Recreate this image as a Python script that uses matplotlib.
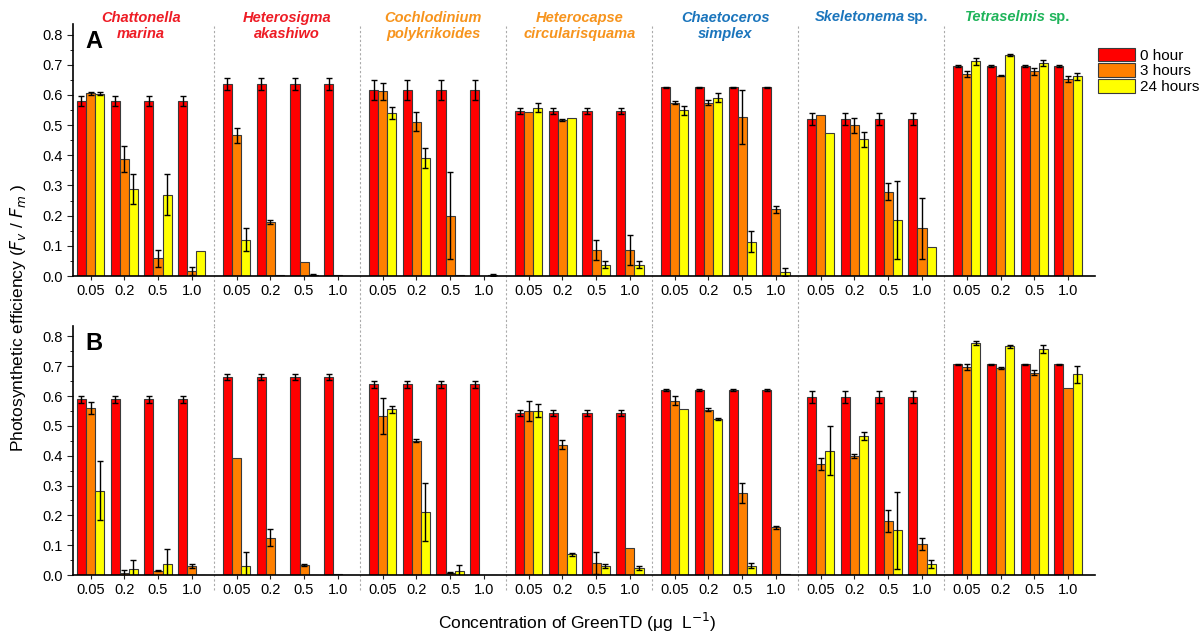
import matplotlib
matplotlib.use("Agg")
import matplotlib.pyplot as plt
import numpy as np

plt.rcParams['font.family'] = ['Liberation Sans', 'DejaVu Sans']

# species and concentrations
species = ["Chattonella\nmarina", "Heterosigma\nakashiwo", "Cochlodinium\npolykrikoides",
           "Heterocapse\ncircularisquama", "Chaetoceros\nsimplex", "Skeletonema", "Tetraselmis"]
species_sp = [False, False, False, False, False, True, True]
species_colors = ["#ee1c25", "#ee1c25", "#f7941d", "#f7941d", "#1b75bc", "#1b75bc", "#1fb45a"]
conc_labels = ["0.05", "0.2", "0.5", "1.0"]
series = ["0 hour", "3 hours", "24 hours"]
bar_colors = ["#ff0000", "#ff8000", "#ffff00"]

# Panel A (values per species, 4 concentrations each)
A_0h = [0.580, 0.580, 0.580, 0.580,  0.637, 0.637, 0.637, 0.637,  0.618, 0.617, 0.617, 0.617,
        0.547, 0.547, 0.547, 0.547,  0.626, 0.626, 0.626, 0.626,  0.521, 0.521, 0.521, 0.521,
        0.696, 0.696, 0.696, 0.696]
A_0h_err = [0.015, 0.015, 0.015, 0.015,  0.02, 0.02, 0.02, 0.02,  0.033, 0.033, 0.033, 0.033,
            0.01, 0.01, 0.01, 0.01,  0.002, 0.002, 0.002, 0.002,  0.02, 0.02, 0.02, 0.02,
            0.003, 0.003, 0.003, 0.003]
A_3h = [0.606, 0.388, 0.059, 0.016,  0.467, 0.180, 0.048, 0.002,  0.612, 0.512, 0.200, 0.0,
        0.543, 0.517, 0.087, 0.087,  0.575, 0.575, 0.526, 0.221,  0.532, 0.500, 0.280, 0.158,
        0.670, 0.664, 0.678, 0.653]
A_3h_err = [0.005, 0.043, 0.028, 0.014,  0.025, 0.007, 0.0, 0.0,  0.027, 0.033, 0.145, 0.0,
            0.0, 0.003, 0.033, 0.05,  0.005, 0.007, 0.09, 0.012,  0.0, 0.025, 0.028, 0.1,
            0.01, 0.002, 0.013, 0.01]
A_24h = [0.604, 0.289, 0.270, 0.083,  0.121, 0.002, 0.005, 0.0,  0.540, 0.392, 0.003, 0.003,
         0.558, 0.523, 0.038, 0.038,  0.550, 0.591, 0.113, 0.013,  0.474, 0.453, 0.186, 0.097,
         0.711, 0.733, 0.707, 0.662]
A_24h_err = [0.005, 0.05, 0.068, 0.0,  0.037, 0.0, 0.002, 0.0,  0.02, 0.033, 0.0, 0.003,
             0.015, 0.0, 0.012, 0.012,  0.015, 0.015, 0.035, 0.013,  0.0, 0.025, 0.13, 0.0,
             0.013, 0.003, 0.01, 0.012]

# Panel B
B_0h = [0.589, 0.589, 0.589, 0.589,  0.663, 0.663, 0.663, 0.663,  0.639, 0.639, 0.639, 0.639,
        0.542, 0.542, 0.542, 0.542,  0.620, 0.620, 0.620, 0.620,  0.596, 0.596, 0.596, 0.596,
        0.707, 0.707, 0.707, 0.707]
B_0h_err = [0.012, 0.012, 0.012, 0.012,  0.01, 0.01, 0.01, 0.01,  0.011, 0.011, 0.011, 0.011,
            0.01, 0.01, 0.01, 0.01,  0.002, 0.002, 0.002, 0.002,  0.02, 0.02, 0.02, 0.02,
            0.002, 0.002, 0.002, 0.002]
B_3h = [0.561, 0.008, 0.015, 0.030,  0.391, 0.125, 0.034, 0.002,  0.532, 0.450, 0.008, 0.0,
        0.551, 0.437, 0.039, 0.089,  0.585, 0.554, 0.275, 0.160,  0.372, 0.399, 0.181, 0.105,
        0.698, 0.694, 0.678, 0.627]
B_3h_err = [0.02, 0.01, 0.002, 0.008,  0.0, 0.028, 0.004, 0.0,  0.06, 0.005, 0.002, 0.0,
            0.034, 0.014, 0.037, 0.0,  0.015, 0.005, 0.033, 0.006,  0.02, 0.008, 0.036, 0.02,
            0.01, 0.003, 0.008, 0.0]
B_24h = [0.283, 0.021, 0.036, 0.0,  0.031, 0.0, 0.0, 0.0,  0.556, 0.211, 0.015, 0.0,
         0.551, 0.069, 0.030, 0.024,  0.556, 0.523, 0.031, 0.005,  0.417, 0.465, 0.150, 0.037,
         0.779, 0.767, 0.757, 0.673]
B_24h_err = [0.1, 0.03, 0.052, 0.0,  0.045, 0.0, 0.0, 0.0,  0.012, 0.096, 0.02, 0.0,
             0.022, 0.005, 0.006, 0.007,  0.0, 0.004, 0.008, 0.0,  0.082, 0.014, 0.13, 0.012,
             0.007, 0.005, 0.014, 0.028]

group_gap = 4.33
width = 0.27
xs = np.array([i * group_gap + j for i in range(len(species)) for j in range(4)])

fig = plt.figure(figsize=(12.03, 6.37), dpi=100)
axA = fig.add_axes([0.0607, 0.5667, 0.8495, 0.3955])
axB = fig.add_axes([0.0607, 0.0973, 0.8495, 0.3910])


def draw_panel(ax, vals, errs, letter, div_ymin):
    for k in range(3):
        pos = xs + (k - 1) * width
        v = np.array(vals[k])
        e = np.array(errs[k])
        ax.bar(pos, v, width, color=bar_colors[k], edgecolor="#3a3a3a", linewidth=0.8,
               label=series[k], zorder=2)
        m = e > 0
        ax.errorbar(pos[m], v[m], yerr=e[m], fmt="none", ecolor="black", elinewidth=1,
                    capsize=2.5, capthick=1, zorder=3)
    ax.set_ylim(0, 0.835)
    ax.set_xlim(-0.52, 6 * group_gap + 3.8)
    ax.set_yticks(np.arange(0, 0.81, 0.1))
    ax.set_yticks(np.arange(0.05, 0.81, 0.1), minor=True)
    ax.set_yticklabels(["%.1f" % t for t in np.arange(0, 0.81, 0.1)])
    ax.set_xticks(xs)
    ax.set_xticklabels(conc_labels * len(species))
    ax.tick_params(axis="both", labelsize=10.5, direction="out", color="#222222")
    ax.tick_params(axis="y", which="major", length=4)
    ax.tick_params(axis="y", which="minor", length=2)
    ax.tick_params(axis="x", length=3, pad=3)
    for s in ["top", "right"]:
        ax.spines[s].set_visible(False)
    ax.spines["left"].set_linewidth(1.2)
    ax.spines["bottom"].set_linewidth(1.2)
    for i in range(len(species) - 1):
        xd = i * group_gap + 3 + (group_gap - 3) / 2
        ax.axvline(xd, ymin=div_ymin, ymax=1.0, color="#aaaaaa", linestyle=(0, (2, 2)),
                   linewidth=0.8, clip_on=False, zorder=1)
    ax.text(0.012, 0.93, letter, transform=ax.transAxes, fontsize=17, fontweight="bold",
            va="center", ha="left")


draw_panel(axA, [A_0h, A_3h, A_24h], [A_0h_err, A_3h_err, A_24h_err], "A", -0.2)
draw_panel(axB, [B_0h, B_3h, B_24h], [B_0h_err, B_3h_err, B_24h_err], "B", -0.06)

# species titles
for i, name in enumerate(species):
    cx = i * group_gap + 1.5
    if species_sp[i]:
        t = axA.text(cx - 0.35, 1.027, name, transform=axA.get_xaxis_transform(),
                     ha="center", va="center", fontsize=10.5, fontweight="bold",
                     fontstyle="italic", color=species_colors[i], clip_on=False)
        axA.annotate("sp.", xy=(1, 0), xycoords=t, xytext=(1.5, 0), textcoords="offset points",
                     ha="left", va="bottom", fontsize=10.5, fontweight="bold",
                     color=species_colors[i])
    else:
        axA.text(cx, 0.992, name, transform=axA.get_xaxis_transform(),
                 ha="center", va="center", fontsize=10.5, fontweight="bold",
                 fontstyle="italic", color=species_colors[i], linespacing=1.15, clip_on=False)

fig.text(0.015, 0.5, r"Photosynthetic efficiency ($F_v$ / $F_m$ )", rotation=90,
         ha="center", va="center", fontsize=12.5)
fig.text(0.48, 0.023, "Concentration of GreenTD (μg  L$^{-1}$)", ha="center", va="center",
         fontsize=12.5)

axA.legend(loc="upper left", bbox_to_anchor=(0.908, 0.935), bbox_transform=fig.transFigure,
           frameon=False, fontsize=11, handlelength=2.4, handleheight=1.0,
           labelspacing=0.05, handletextpad=0.3, borderaxespad=0)

fig.savefig("out.png", dpi=100)
